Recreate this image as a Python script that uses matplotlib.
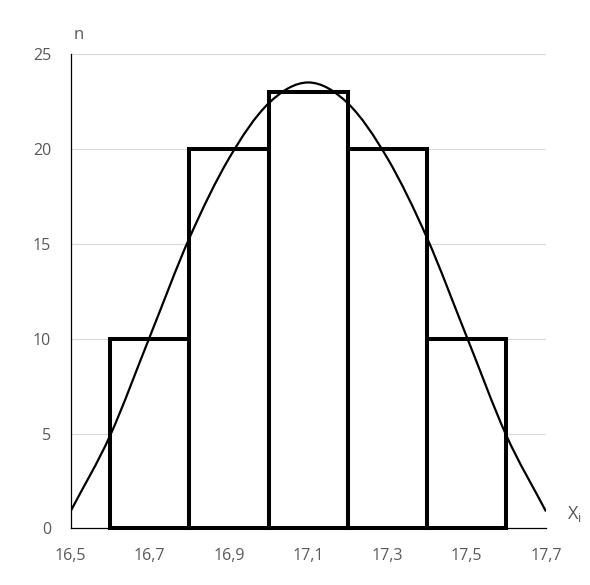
import matplotlib.pyplot as plt
from matplotlib.path import Path
from matplotlib.patches import PathPatch

# histogram bins (left edges), widths and counts
bin_left = [16.6, 16.8, 17.0, 17.2, 17.4]
bin_width = 0.2
counts = [10, 20, 23, 20, 10]

# curve points
curve_x = [16.5, 16.6, 16.7, 16.8, 16.9, 17.0, 17.1, 17.2, 17.3, 17.4, 17.5, 17.6, 17.7]
curve_y = [0.9, 4.9, 10.1, 15.3, 19.5, 22.4, 23.5, 22.4, 19.5, 15.3, 10.1, 4.9, 0.9]

x_ticks = [16.5, 16.7, 16.9, 17.1, 17.3, 17.5, 17.7]
x_labels = ["16,5", "16,7", "16,9", "17,1", "17,3", "17,5", "17,7"]
y_ticks = [0, 5, 10, 15, 20, 25]


def smooth_path(xs, ys):
    # smoothed line like Excel (Catmull-Rom as cubic Bezier)
    pts = list(zip(xs, ys))
    n = len(pts)
    # reflected ghost points at both ends
    first = (2 * pts[0][0] - pts[1][0], 2 * pts[0][1] - pts[1][1])
    last = (2 * pts[-1][0] - pts[-2][0], 2 * pts[-1][1] - pts[-2][1])
    ext = [first] + pts + [last]
    verts = [pts[0]]
    codes = [Path.MOVETO]
    for i in range(1, n):
        p0, p1, p2, p3 = ext[i - 1], ext[i], ext[i + 1], ext[i + 2]
        c1 = (p1[0] + (p2[0] - p0[0]) / 6, p1[1] + (p2[1] - p0[1]) / 6)
        c2 = (p2[0] - (p3[0] - p1[0]) / 6, p2[1] - (p3[1] - p1[1]) / 6)
        verts += [c1, c2, p2]
        codes += [Path.CURVE4] * 3
    return Path(verts, codes)


plt.rcParams['font.family'] = ['Open Sans', 'DejaVu Sans']

fig = plt.figure(figsize=(5.9, 5.85), dpi=100)
ax = fig.add_axes([0.1195, 0.0966, 0.8059, 0.8111])

ax.set_xlim(16.5, 17.7)
ax.set_ylim(0, 25)

for y in y_ticks[1:]:
    ax.axhline(y, color='#d9d9d9', lw=0.8, zorder=0)

ax.bar(bin_left, counts, width=bin_width, align='edge', facecolor='white',
       edgecolor='black', linewidth=2.9, zorder=2, clip_on=False)

ax.add_patch(PathPatch(smooth_path(curve_x, curve_y), fill=False,
                       edgecolor='black', lw=1.6, zorder=3))

ax.set_xticks(x_ticks)
ax.set_xticklabels(x_labels)
ax.set_yticks(y_ticks)
ax.tick_params(length=0, labelsize=11.5, labelcolor='#595959')
ax.tick_params(axis='x', pad=14)
ax.tick_params(axis='y', pad=14)

for s in ['top', 'right']:
    ax.spines[s].set_visible(False)
ax.spines['left'].set_linewidth(0.9)
ax.spines['bottom'].set_linewidth(0.9)

fig.text(79 / 590, 1 - 35 / 585, "n", fontsize=12, color='#595959',
         ha='center', va='center')
fig.text(574 / 590, 1 - 514 / 585, "X$_\\mathregular{i}$", fontsize=13,
         color='#595959', ha='center', va='center')

fig.savefig("out.png", dpi=100)
